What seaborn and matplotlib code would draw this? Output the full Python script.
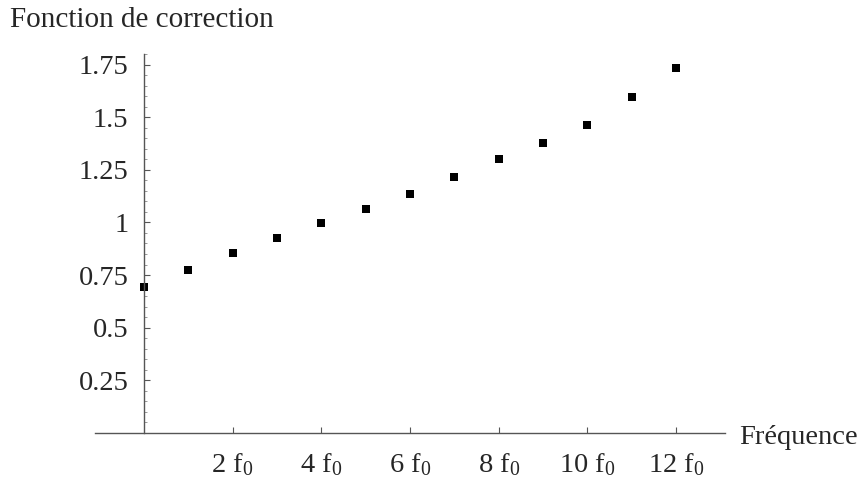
import matplotlib
matplotlib.use("Agg")
import matplotlib.pyplot as plt
import seaborn as sns
import pandas as pd
import numpy as np
from matplotlib.ticker import MultipleLocator, FixedLocator

# Data
harmonics = [0, 1, 2, 3, 4, 5, 6, 7, 8, 9, 10, 11, 12]
correction = [0.694, 0.775, 0.854, 0.925, 0.997, 1.065, 1.133, 1.215, 1.299, 1.378, 1.461, 1.597, 1.735]
x_ticks = [2, 4, 6, 8, 10, 12]
x_tick_labels = [r"2 $\mathrm{f}_0$", r"4 $\mathrm{f}_0$", r"6 $\mathrm{f}_0$",
                 r"8 $\mathrm{f}_0$", r"10 $\mathrm{f}_0$", r"12 $\mathrm{f}_0$"]
y_ticks = [0.25, 0.5, 0.75, 1.0, 1.25, 1.5, 1.75]
y_tick_labels = ["0.25", "0.5", "0.75", "1", "1.25", "1.5", "1.75"]

sns.set_style("white")
plt.rcParams['font.family'] = ['Liberation Serif', 'DejaVu Serif']
plt.rcParams['mathtext.fontset'] = 'custom'
plt.rcParams['mathtext.rm'] = 'Liberation Serif'
plt.rcParams['mathtext.it'] = 'Liberation Serif:italic'

df = pd.DataFrame({"x": harmonics, "y": correction})

fig = plt.figure(figsize=(8.61, 4.79), dpi=100)
W, H = 861, 479
left, right, top, bottom = 95, 725, 54, 433
ax = fig.add_axes([left / W, 1 - bottom / H, (right - left) / W, (bottom - top) / H])

sns.scatterplot(data=df, x="x", y="y", ax=ax, marker="s", s=30, color="black",
                linewidth=0, legend=False)

ax.set_xlim(-1.1, 13.1)
ax.set_ylim(0, 1.80)

axis_color = "#555555"
for s in ["top", "right"]:
    ax.spines[s].set_visible(False)
ax.spines["left"].set_position(("data", 0))
ax.spines["bottom"].set_position(("data", 0))
ax.spines["left"].set_color(axis_color)
ax.spines["bottom"].set_color(axis_color)
ax.spines["left"].set_linewidth(1.0)
ax.spines["bottom"].set_linewidth(1.0)

ax.xaxis.set_major_locator(FixedLocator(x_ticks))
ax.set_xticklabels(x_tick_labels)
ax.yaxis.set_major_locator(FixedLocator(y_ticks))
ax.set_yticklabels(y_tick_labels)
ax.yaxis.set_minor_locator(MultipleLocator(0.05))

ax.tick_params(axis="x", which="major", direction="in", length=4, width=0.8,
               color=axis_color, labelsize=20.5, pad=13)
ax.tick_params(axis="y", which="major", direction="in", length=4, width=0.8,
               color=axis_color, labelsize=20.5, pad=11)
ax.tick_params(axis="y", which="minor", direction="in", length=2.2, width=0.6,
               color="#888888")
ax.tick_params(axis="both", which="both", left=True, bottom=True)
ax.set_xlabel("")
ax.set_ylabel("")

fig.text(10 / W, 1 - 20 / H, "Fonction de correction", fontsize=21,
         ha="left", va="center")
fig.text(739 / W, 1 - 438 / H, "Fréquence", fontsize=20.5, ha="left", va="center")

fig.savefig("out.png", dpi=100)
